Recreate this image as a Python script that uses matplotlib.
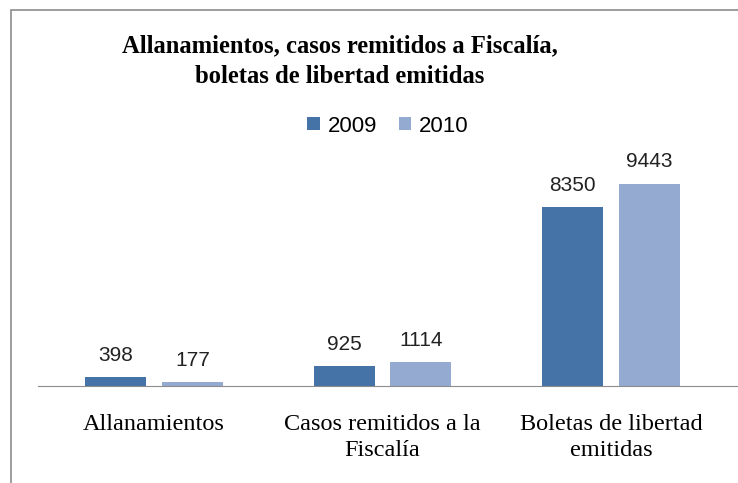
import numpy as np
import matplotlib.pyplot as plt
from matplotlib.patches import Rectangle

categories = ['Allanamientos', 'Casos remitidos a la\nFiscalía', 'Boletas de libertad\nemitidas']
years = ['2009', '2010']
values_2009 = [398, 925, 8350]
values_2010 = [177, 1114, 9443]
colors = ['#4572A7', '#94AAD1']

W, H = 738, 483
fig = plt.figure(figsize=(W / 100, H / 100), dpi=100)

# outer chart border (cut off at right and bottom like the screenshot)
fig.patches.append(Rectangle((11 / W, -0.1), 1.2, (H - 10) / H + 0.1, transform=fig.transFigure,
                             fill=False, edgecolor='#8c8c8c', linewidth=1.2))

# plot area in pixel units: baseline at y=386, 0.0214 px per unit
base_y, top_y = 386, 150
left_x, right_x = 38, 738
ax = fig.add_axes([left_x / W, 1 - base_y / H, (right_x - left_x) / W, (base_y - top_y) / H])
ax.set_ylim(0, (base_y - top_y) / 0.0214)
ax.set_xlim(-0.508, 2.556)

x = np.arange(len(categories))
w = 0.267
off = 0.168
b1 = ax.bar(x - off, values_2009, w, color=colors[0], label=years[0])
b2 = ax.bar(x + off, values_2010, w, color=colors[1], label=years[1])

for bars, vals in ((b1, values_2009), (b2, values_2010)):
    for b, v in zip(bars, vals):
        ax.annotate(str(v), (b.get_x() + b.get_width() / 2, v), xytext=(0, 9),
                    textcoords='offset points', ha='center', va='bottom',
                    fontsize=15, family='Liberation Sans', color='#222222')

for s in ['top', 'right', 'left']:
    ax.spines[s].set_visible(False)
ax.spines['bottom'].set_color('#8c8c8c')
ax.set_yticks([])
ax.set_xticks(x)
ax.set_xticklabels(categories, family='Liberation Serif', fontsize=17.5, linespacing=1.35)
ax.tick_params(axis='x', length=0, pad=20)

fig.text(340 / W, 1 - 61 / H, 'Allanamientos, casos remitidos a Fiscalía,\nboletas de libertad emitidas',
         ha='center', va='center', family='Liberation Serif', fontweight='bold',
         fontsize=17.7, linespacing=1.4)

leg = fig.legend(handles=[b1, b2], loc='center', bbox_to_anchor=(388 / W, 1 - 126 / H), ncol=2,
                 frameon=False, prop={'family': 'Liberation Sans', 'size': 16},
                 handlelength=0.55, handleheight=0.55, handletextpad=0.35, columnspacing=1.0)

fig.savefig('out.png', dpi=100)
